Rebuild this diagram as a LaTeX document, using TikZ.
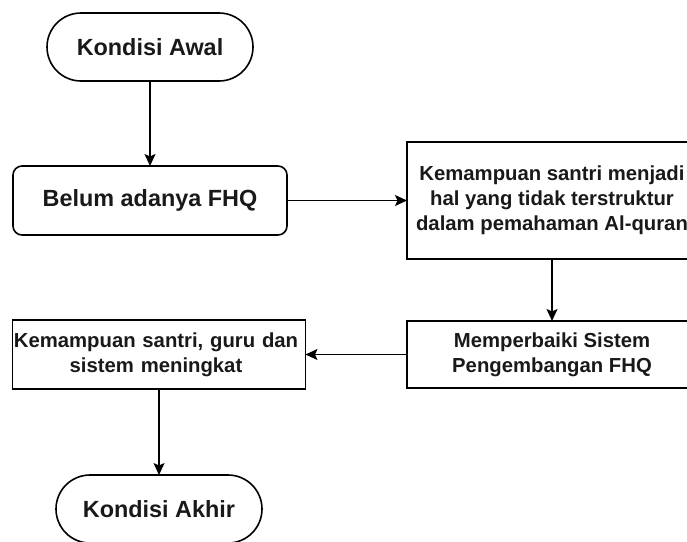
\documentclass[tikz,border=0pt]{standalone}
\usepackage{fontspec}
\setmainfont{Liberation Sans}
\usetikzlibrary{arrows.meta}
\begin{document}
\begin{tikzpicture}[x=1pt,y=-1pt,
  every node/.style={inner sep=0pt, outer sep=0pt, align=center, text=black!90},
  term/.style={draw, line width=1.6pt, rounded corners=34pt, minimum width=206pt, minimum height=68pt, font=\bfseries\fontsize{23.4}{28}\selectfont},
  rbox/.style={draw, line width=1.6pt, rounded corners=9pt, font=\bfseries\fontsize{23.4}{28}\selectfont},
  pbox/.style={draw, line width=1.6pt, font=\bfseries\fontsize{20.3}{25}\selectfont},
  conn/.style={line width=1.5pt, -{Stealth[length=12pt,width=11pt,inset=2.5pt]}}
]
\useasboundingbox (0,0) rectangle (687,541);
\node[term] (awal) at (150,47) {Kondisi Awal};
\node[rbox, minimum width=274pt, minimum height=69pt] (belum) at (150,200.5) {Belum adanya FHQ};
\node[pbox, minimum width=290pt, minimum height=117pt] (kem) at (552,200.5) {Kemampuan santri menjadi\\hal yang tidak terstruktur\\dalam pemahaman Al-quran};
\node[pbox, minimum width=290pt, minimum height=67pt] (mem) at (552,354.5) {Memperbaiki Sistem\\Pengembangan FHQ};
\node[pbox, minimum width=293pt, minimum height=69pt, text width=293pt] (hasil) at (159,354.5) {\hspace*{-6pt}Kemampuan santri, guru dan\\\hspace*{-6pt}sistem meningkat};
\node[term] (akhir) at (159,509) {Kondisi Akhir};
\draw[conn] (awal) -- (belum);
\draw[conn] (belum) -- (kem);
\draw[conn] (kem.south) -- (mem.north);
\draw[conn] (mem) -- (hasil);
\draw[conn] (hasil) -- (akhir);
\end{tikzpicture}
\end{document}
